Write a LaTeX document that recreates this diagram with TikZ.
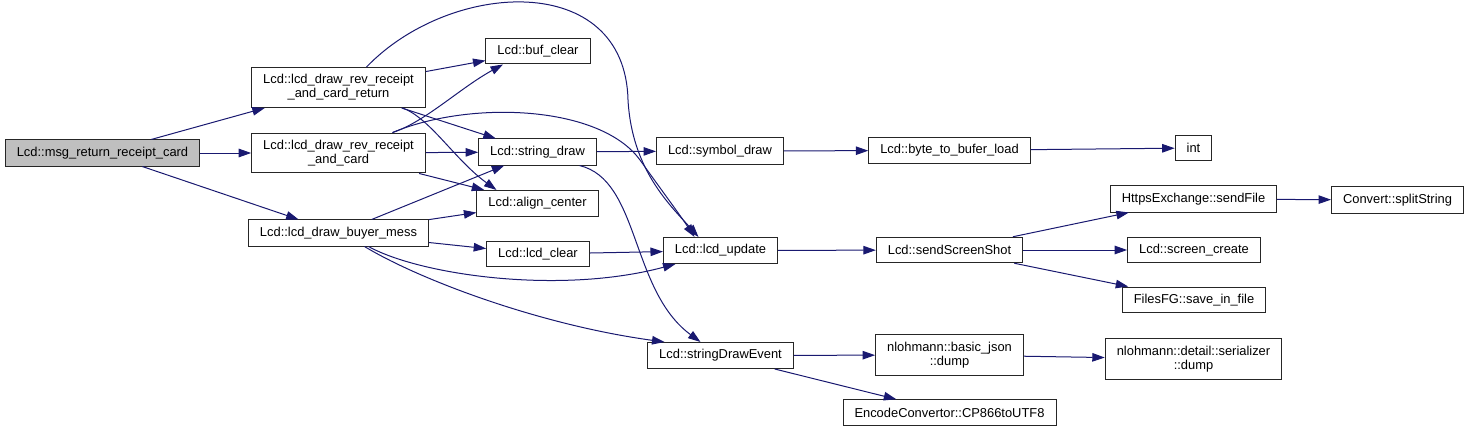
\documentclass[tikz,border=0pt]{standalone}
\usepackage{fontspec}
\setmainfont{Liberation Sans}
\usetikzlibrary{arrows.meta}
\definecolor{edgeblue}{HTML}{191970}
\tikzset{
  fn/.style={draw=black!85, fill=white, line width=1pt, inner xsep=11.5pt,
    inner ysep=7pt, minimum height=25.5pt, align=center,
    font=\fontsize{12.9}{14}\selectfont},
  cur/.style={fn, fill=black!25},
  call/.style={->, draw=edgeblue, line width=1pt}
}
\begin{document}
\begin{tikzpicture}[x=1pt, y=-1pt, >={Triangle[length=12.5pt,width=8.5pt]}]
    \useasboundingbox (0,0) rectangle (1471,433);

    % 1. Các hàm
    \node[cur] (msg) at (102.5,153) {Lcd::msg\_return\_receipt\_card};
    \node[fn] (rr) at (338.5,87.5) {Lcd::lcd\_draw\_rev\_receipt\\\_and\_card\_return};
    \node[fn] (rc) at (338.5,153) {Lcd::lcd\_draw\_rev\_receipt\\\_and\_card};
    \node[fn] (bm) at (338.5,233) {Lcd::lcd\_draw\_buyer\_mess};
    \node[fn] (bc) at (538,51) {Lcd::buf\_clear};
    \node[fn] (sd) at (537.5,152) {Lcd::string\_draw};
    \node[fn] (ac) at (537.5,203.5) {Lcd::align\_center};
    \node[fn] (lc) at (538,254) {Lcd::lcd\_clear};
    \node[fn] (sy) at (720,151) {Lcd::symbol\_draw};
    \node[fn] (lu) at (720.5,250.5) {Lcd::lcd\_update};
    \node[fn] (se) at (720.5,355.5) {Lcd::stringDrawEvent};
    \node[fn] (bb) at (949.5,150.5) {Lcd::byte\_to\_bufer\_load};
    \node[fn] (ss) at (949.5,250) {Lcd::sendScreenShot};
    \node[fn] (bj) at (949.5,355) {nlohmann::basic\_json\\::dump};
    \node[fn] (cp) at (949.5,412.5) {EncodeConvertor::CP866toUTF8};
    \node[fn] (int) at (1193.5,148) {int};
    \node[fn] (hf) at (1193.5,199) {HttpsExchange::sendFile};
    \node[fn] (sc) at (1194,250) {Lcd::screen\_create};
    \node[fn] (sf) at (1194,300) {FilesFG::save\_in\_file};
    \node[fn] (sz) at (1193.5,359) {nlohmann::detail::serializer\\::dump};
    \node[fn] (sp) at (1397.5,200) {Convert::splitString};

    % 2. Lời gọi từ msg_return_receipt_card
    \draw[call] (msg) -- (rr);
    \draw[call] (msg) -- (rc);
    \draw[call] (msg) -- (bm);

    % 3. Lời gọi từ lcd_draw_rev_receipt_and_card_return
    \draw[call] (rr) -- (bc);
    \draw[call] (rr) -- (sd);
    \draw[call] ([xshift=64pt]rr.south) .. controls (430,118) and (455,160) .. ([xshift=-41pt]ac.north);
    \draw[call] ([xshift=28pt]rr.north) .. controls (450,-20) and (625,-30) .. (628,100)
        .. controls (632,170) and (670,205) .. ([xshift=-22pt]lu.north);

    % 4. Lời gọi từ lcd_draw_rev_receipt_and_card
    \draw[call] ([xshift=54pt]rc.north) .. controls (425,122) and (460,88) .. ([xshift=-35pt]bc.south);
    \draw[call] (rc) -- (sd);
    \draw[call] (rc) -- (ac);
    \draw[call] ([xshift=54pt]rc.north) .. controls (470,100) and (600,105) .. (640,160)
        .. controls (665,195) and (680,215) .. ([xshift=-26pt]lu.north);

    % 5. Lời gọi từ lcd_draw_buyer_mess
    \draw[call] (bm) -- (sd);
    \draw[call] (bm) -- (ac);
    \draw[call] (bm) -- (lc);
    \draw[call] ([xshift=30pt]bm.south) .. controls (420,275) and (560,295) .. ([xshift=-45pt]lu.south);
    \draw[call] ([xshift=26pt]bm.south) .. controls (420,280) and (540,325) .. ([xshift=-56pt]se.north);

    % 6. Các lời gọi còn lại
    \draw[call] (sd) -- (sy);
    \draw[call] ([xshift=42pt]sd.south) .. controls (640,180) and (630,290) .. ([xshift=-20pt]se.north);
    \draw[call] (lc) -- (lu);
    \draw[call] (sy) -- (bb);
    \draw[call] (bb) -- (int);
    \draw[call] (lu) -- (ss);
    \draw[call] (ss) -- (hf);
    \draw[call] (ss) -- (sc);
    \draw[call] (ss) -- (sf);
    \draw[call] (hf) -- (sp);
    \draw[call] (se) -- (bj);
    \draw[call] (se) -- (cp);
    \draw[call] (bj) -- (sz);
\end{tikzpicture}
\end{document}
